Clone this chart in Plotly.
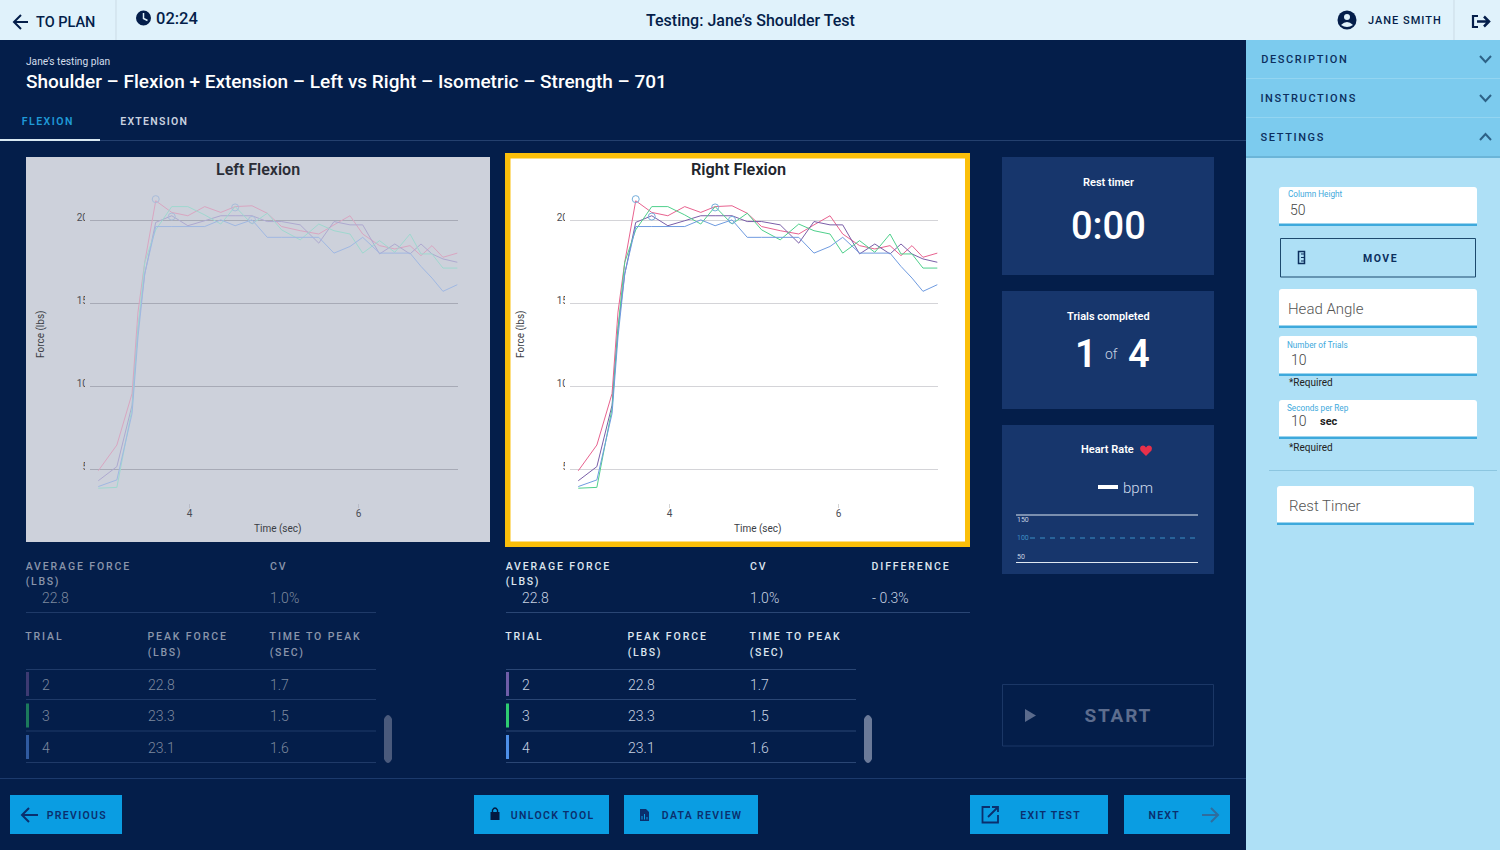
import json
import re

import plotly.graph_objects as go

W, H = 1500, 850

# force curves, shared sample times
times = [2.92, 3.14, 3.32, 3.39, 3.47, 3.60, 3.79, 3.98, 4.18, 4.37, 4.54, 4.74, 4.92,
         5.09, 5.31, 5.53, 5.71, 5.90, 6.05, 6.25, 6.43, 6.61, 6.74, 6.87, 7.00, 7.17]
trial_1 = [4.95, 6.5, 9.6, 14.5, 17.5, 21.2, 20.5, 20.3, 20.85, 20.5, 20.85, 20.9, 20.45,
           19.65, 19.4, 19.2, 19.75, 20.3, 19.2, 18.5, 18.3, 18.5, 17.9, 18.5, 17.8, 18.05]
trial_2 = [4.35, 5.2, 8.9, 13.5, 16.8, 19.9, 20.3, 19.7, 20.0, 20.3, 20.3, 20.3, 19.95,
           19.95, 19.75, 18.65, 19.95, 19.75, 19.75, 18.0, 18.6, 18.0, 18.6, 18.0, 17.7, 17.5]
trial_3 = [3.9, 3.95, 8.7, 13.5, 17.5, 19.45, 20.85, 20.85, 20.35, 19.8, 20.85, 19.8, 20.45,
           19.45, 18.85, 19.8, 19.4, 19.2, 18.05, 18.8, 18.1, 19.2, 18.0, 18.0, 17.15, 17.15]
trial_4 = [4.0, 4.4, 8.4, 13.0, 16.8, 19.65, 19.65, 19.65, 19.65, 20.05, 19.7, 20.05, 19.0,
           19.0, 19.0, 19.0, 18.05, 18.45, 19.0, 18.05, 18.05, 18.05, 17.25, 16.55, 15.75, 16.15]
peak_times = [3.60, 3.79, 4.54, 4.74]
peak_forces = [21.3, 20.25, 20.8, 20.05]

y_ticks = [5, 10, 15, 20]
x_ticks = [4, 6]
x_range = [2.822, 7.178]
y_range = [3.01, 22.15]

# table below the charts
table_trials = ["2", "3", "4"]
table_peak = ["22.8", "23.3", "23.1"]
table_time = ["1.7", "1.5", "1.6"]
table_bars = ["#6f5da8", "#2ecc71", "#4d8fe8"]
table_bars_dim = ["#3d3a72", "#1c7a5c", "#2f5aa0"]

NAVY = "#041e4a"
CARD = "#17366c"
ACCENT = "#0a9de2"
BTN_TEXT = "#0a2f6e"
FIELD = "#3ea9dc"
LEFT_BG = "#cdd1db"

shapes = []
annotations = []
tracked = {}


def fx(x):
    return x / W


def fy(y):
    return 1 - y / H


def rect(x0, y0, x1, y1, fill, line=None, width=1, layer="below"):
    shapes.append(dict(type="rect", xref="paper", yref="paper", layer=layer,
                       x0=fx(x0), x1=fx(x1), y0=fy(y1), y1=fy(y0), fillcolor=fill,
                       line=dict(color=line or fill, width=width if line else 0)))


def hline(x0, x1, y, color, width=1, dash="solid"):
    shapes.append(dict(type="line", xref="paper", yref="paper", layer="below",
                       x0=fx(x0), x1=fx(x1), y0=fy(y), y1=fy(y),
                       line=dict(color=color, width=width, dash=dash)))


def vline(x, y0, y1, color):
    shapes.append(dict(type="line", xref="paper", yref="paper", layer="below",
                       x0=fx(x), x1=fx(x), y0=fy(y0), y1=fy(y1),
                       line=dict(color=color, width=1)))


def circle(cx, cy, r, fill):
    shapes.append(dict(type="circle", xref="paper", yref="paper", layer="below",
                       x0=fx(cx - r), x1=fx(cx + r), y0=fy(cy + r), y1=fy(cy - r),
                       fillcolor=fill, line=dict(width=0)))


def icon(d, fill=None, line=None, width=2):
    # d is written in screen pixels, every number pair gets mapped to paper
    nums = iter(range(10000))

    def conv(m):
        v = float(m.group())
        return f"{fx(v):.5f}" if next(nums) % 2 == 0 else f"{fy(v):.5f}"

    path = re.sub(r"\d+\.?\d*", conv, d)
    shapes.append(dict(type="path", path=path, xref="paper", yref="paper", layer="below",
                       fillcolor=fill or "rgba(0,0,0,0)",
                       line=dict(color=line or "rgba(0,0,0,0)", width=width if line else 0)))


def text(x, y, s, size, color, anchor="left", weight=400, track=0, angle=0):
    if track:
        tracked[s] = track
    # left anchored annotations land a pixel to the right
    if anchor == "left":
        x -= 1
    annotations.append(dict(
        text=s, x=fx(x), y=fy(y), xref="paper", yref="paper", xanchor=anchor, yanchor="middle",
        showarrow=False, textangle=angle, borderpad=0,
        font=dict(family="Roboto", size=size, color=color, weight=weight)))


def rounded(x0, y0, x1, y1, r, fill):
    d = (f"M {x0} {y1} L {x0} {y0 + r} Q {x0} {y0} {x0 + r} {y0} L {x1 - r} {y0} "
         f"Q {x1} {y0} {x1} {y0 + r} L {x1} {y1} Z")
    icon(d, fill=fill)


def arrow(x0, x1, y, color, left=True, width=2):
    if left:
        icon(f"M {x1} {y} L {x0} {y} M {x0 + 7} {y - 7} L {x0} {y} L {x0 + 7} {y + 7}", line=color, width=width)
    else:
        icon(f"M {x0} {y} L {x1} {y} M {x1 - 7} {y - 7} L {x1} {y} L {x1 - 7} {y + 7}", line=color, width=width)


def field(x0, y0, x1, y1):
    rounded(x0, y0, x1, y1, 3, "#ffffff")
    rect(x0, y1 - 2.5, x1, y1, FIELD)


def results(dx, head, value, rule, bars, show_diff):
    text(558.5 + dx, 566, "AVERAGE FORCE", 10.5, head, "center", 500, 1.9)
    text(523 + dx, 581.5, "(LBS)", 10.5, head, "center", 500, 1.7)
    text(522 + dx, 598, "22.8", 14, value, weight=300)
    text(758.5 + dx, 566, "CV", 10.5, head, "center", 500, 1.9)
    text(750 + dx, 598, "1.0%", 14, value, weight=300)
    if show_diff:
        text(911, 566, "DIFFERENCE", 10.5, head, "center", 500, 1.9)
        text(872, 598, "- 0.3%", 14, value, weight=300)
    hline(506 + dx, (970 if show_diff else 856) + dx, 612.5, rule)
    text(524.5 + dx, 636.5, "TRIAL", 10.5, head, "center", 500, 1.9)
    text(667.5 + dx, 636.5, "PEAK FORCE", 10.5, head, "center", 500, 1.9)
    text(645 + dx, 652.5, "(LBS)", 10.5, head, "center", 500, 1.7)
    text(795.5 + dx, 636.5, "TIME TO PEAK", 10.5, head, "center", 500, 1.9)
    text(767 + dx, 652.5, "(SEC)", 10.5, head, "center", 500, 1.7)
    hline(506 + dx, 856 + dx, 669.5, rule)
    for i, row_y in enumerate([684.5, 716, 747.5]):
        rect(506 + dx, row_y - 12.5, 509 + dx, row_y + 11.5, bars[i])
        text(522 + dx, row_y, table_trials[i], 14, value, weight=300)
        text(628 + dx, row_y, table_peak[i], 14, value, weight=300)
        text(750 + dx, row_y, table_time[i], 14, value, weight=300)
        hline(506 + dx, 856 + dx, row_y + 15, rule)
    icon(f"M {864 + dx} 719 Q {868 + dx} 711 {872 + dx} 719 L {872 + dx} 759 "
         f"Q {868 + dx} 767 {864 + dx} 759 Z", fill="#6b7a99" if show_diff else "#4a5a7c")


# page chrome
rect(0, 0, W, 40, "#e0f2fb")
vline(116, 0, 40, "#cbdbe5")
vline(1454, 0, 40, "#cbdbe5")
arrow(14, 28, 22, NAVY)
text(36, 22.5, "TO PLAN", 14.5, NAVY, weight=500)
circle(143.5, 18, 7.5, NAVY)
icon("M 143.5 13 L 143.5 18.5 L 147.5 20.5", line="#e0f2fb", width=1.5)
text(156, 18.5, "02:24", 16.5, NAVY, weight=500)
text(750, 20, "Testing: Jane’s Shoulder Test", 16, NAVY, "center", 500)
circle(1347, 20, 9.5, NAVY)
circle(1347, 17, 3, "#e0f2fb")
icon("M 1341 25 Q 1347 19 1353 25 Q 1347 29 1341 25 Z", fill="#e0f2fb")
text(1404.5, 20, "JANE SMITH", 11, NAVY, "center", 500, 1.0)
icon("M 1478 16 L 1473 16 L 1473 27 L 1478 27", line=NAVY, width=2.2)
icon("M 1477 21.5 L 1488 21.5 M 1484 16.5 L 1489 21.5 L 1484 26.5", line=NAVY, width=2.5)

text(26, 61, "Jane’s testing plan", 10.2, "#d5dfec")
text(26, 82, "Shoulder – Flexion + Extension – Left vs Right – Isometric – Strength – 701", 19, "#ffffff", weight=500)
text(47.5, 121.5, "FLEXION", 10.5, "#1f9ad8", "center", 600, 1.5)
text(153.5, 121.5, "EXTENSION", 10.5, "#c9d2e0", "center", 600, 1.3)
hline(100, 1246, 140.5, "#24406e")
rect(0, 139, 100, 141, "#d8e8f2")

# chart panels
rect(26, 157, 490, 542, LEFT_BG)
rect(505, 153, 970, 547, "#fbbf0a")
rect(510.5, 158.5, 965, 541.5, "#ffffff")

results(-480, "#8a95aa", "#7d899f", "#1f3a68", table_bars_dim, False)
results(0, "#dde5ef", "#c7d2e2", "#2a4674", table_bars, True)

# side cards
rect(1002, 157, 1214, 275, CARD)
rect(1002, 291, 1214, 409, CARD)
rect(1002, 425, 1214, 574, CARD)
text(1108, 182, "Rest timer", 11, "#ffffff", "center", 600)
text(1108, 226, "0:00", 38, "#ffffff", "center", 500)
text(1108, 316, "Trials completed", 11, "#ffffff", "center", 600)
text(1086, 354, "1", 38, "#ffffff", "center", 600)
text(1111, 354, "of", 14, "#c7d2e2", "center", 300)
text(1139, 354, "4", 38, "#ffffff", "center", 600)
text(1107, 449.5, "Heart Rate", 11, "#ffffff", "center", 600)
icon("M 1146 456 L 1140.5 450.5 Q 1139 446 1143 445.5 Q 1145 445.5 1146 447.5 "
     "Q 1147 445.5 1149 445.5 Q 1153 446 1151.5 450.5 Z", fill="#e8304a")
rect(1098, 485, 1118, 489, "#ffffff")
text(1123, 488, "bpm", 15, "#cfdcec", weight=300)
hline(1016, 1198, 515, "#dfe8f2", 1)
hline(1030, 1198, 538, "#3d8fc4", 1, "5px,5px")
hline(1016, 1198, 562.5, "#dfe8f2", 1)
text(1017, 519.5, "150", 7, "#c7d2e2")
text(1017, 538, "100", 7, "#3d8fc4")
text(1017, 556.5, "50", 7, "#c7d2e2")

rect(1002.5, 684.5, 1213.5, 746, "rgba(0,0,0,0)", "#1b3766")
icon("M 1025 709 L 1036 715.5 L 1025 722 Z", fill="#5b6b8c")
text(1118.5, 715, "START", 19, "#5d6d8e", "center", 700, 1.8)

# bottom buttons
hline(0, 1246, 778.5, "#1c3a6c")
rect(10, 795, 122, 834, ACCENT)
rect(474, 795, 609, 834, ACCENT)
rect(624, 795, 758, 834, ACCENT)
rect(970, 795, 1108, 834, ACCENT)
rect(1124, 795, 1230, 834, ACCENT)
arrow(22, 38, 815, BTN_TEXT)
text(76.5, 815, "PREVIOUS", 10.5, BTN_TEXT, "center", 600, 1.3)
rect(490.5, 812, 499.5, 820, "#031a40")
icon("M 492.5 812 L 492.5 810 Q 495 806 497.5 810 L 497.5 812", line="#031a40", width=1.4)
text(552.5, 815, "UNLOCK TOOL", 10.5, BTN_TEXT, "center", 600, 1.3)
icon("M 640 809 L 646 809 L 649 812 L 649 821 L 640 821 Z", fill=BTN_TEXT)
icon("M 642 819.5 L 642 816 M 644.5 819.5 L 644.5 814 M 647 819.5 L 647 817", line=ACCENT, width=1)
text(702.5, 815, "DATA REVIEW", 10.5, BTN_TEXT, "center", 600, 1.3)
icon("M 990 807 L 982.5 807 L 982.5 822.5 L 998 822.5 L 998 815", line=BTN_TEXT, width=1.8)
icon("M 988 817 L 998 807 M 992 807 L 998 807 L 998 812", line=BTN_TEXT, width=1.8)
text(1050.5, 815, "EXIT TEST", 10.5, BTN_TEXT, "center", 600, 1.3)
text(1164.5, 815, "NEXT", 10.5, BTN_TEXT, "center", 600, 1.3)
arrow(1202, 1218, 815, "#2f6d9e", left=False)

# settings sidebar
rect(1246, 40, W, 850, "#aee0f6")
rect(1246, 40, W, 157, "#7ccbee")
hline(1246, W, 78.5, "#93d5f1")
hline(1246, W, 117.5, "#93d5f1")
rect(1246, 156, W, 158, "#6bb5d8")
text(1304.5, 59, "DESCRIPTION", 11, "#0c2f5e", "center", 500, 1.6)
text(1309, 98.5, "INSTRUCTIONS", 11, "#0c2f5e", "center", 500, 1.6)
text(1293, 137.5, "SETTINGS", 11, "#0c2f5e", "center", 500, 1.6)
icon("M 1480 56 L 1485.5 62 L 1491 56", line="#2d6287")
icon("M 1480 95 L 1485.5 101 L 1491 95", line="#2d6287")
icon("M 1480 140 L 1485.5 134 L 1491 140", line="#2d6287")

field(1279, 187, 1477, 226)
text(1288, 194.5, "Column Height", 8.2, FIELD)
text(1290, 209.5, "50", 14, "#444444", weight=300)
rect(1280.5, 238.5, 1475.5, 277, "rgba(0,0,0,0)", "#1d4a6e")
rect(1298.5, 251.5, 1304.5, 263.5, "rgba(0,0,0,0)", "#0c2f5e", 1.5)
icon("M 1301 254 L 1304 254 M 1301 257.5 L 1304 257.5 M 1301 261 L 1304 261", line="#0c2f5e", width=1)
text(1380.5, 258.5, "MOVE", 10.5, "#0c2f5e", "center", 700, 1.5)
field(1279, 289, 1477, 328)
text(1288, 309, "Head Angle", 15, "#555555", weight=300)
field(1279, 336, 1477, 376)
text(1287, 344.5, "Number of Trials", 8.2, FIELD)
text(1291, 360, "10", 14, "#444444", weight=300)
text(1289, 382.5, "*Required", 10, "#222222")
field(1279, 400, 1477, 439)
text(1287, 407.5, "Seconds per Rep", 8.2, FIELD)
text(1291, 421, "10", 14, "#444444", weight=300)
text(1320, 421, "sec", 11, "#222222", weight=700)
text(1289, 447.5, "*Required", 10, "#222222")
hline(1269, 1497, 470.5, "#8cc6e0")
field(1277, 486, 1474, 525)
text(1289, 506, "Rest Timer", 15, "#555555", weight=300)

# chart titles and axis labels
text(258, 170, "Left Flexion", 16, "#2a2d36", "center", 600)
text(738, 170, "Right Flexion", 16.3, "#22252d", "center", 600)
text(41, 334, "Force (lbs)", 10, "#3a3d45", "center", angle=-90)
text(521, 334, "Force (lbs)", 10, "#3a3d45", "center", angle=-90)
text(277.5, 528.5, "Time (sec)", 10, "#3a3d45", "center")
text(757.5, 528.5, "Time (sec)", 10, "#3a3d45", "center")

fig = go.Figure()
left_colors = ["#d9a6c1", "#aea9d0", "#9fd8cf", "#a0b8e2"]
right_colors = ["#e8628f", "#7a5ea8", "#4fd08c", "#6f9be0"]
series = [trial_1, trial_2, trial_3, trial_4]
for ax, palette, ring in [("", left_colors, "#a9bdda"), ("2", right_colors, "#74aedb")]:
    for i, values in enumerate(series):
        fig.add_trace(go.Scatter(x=times, y=values, mode="lines", name=f"Trial {i + 1}",
                                 line=dict(color=palette[i], width=1), xaxis=f"x{ax}", yaxis=f"y{ax}"))
    fig.add_trace(go.Scatter(x=peak_times, y=peak_forces, mode="markers", name="Peak",
                             marker=dict(symbol="circle-open", size=7, color=ring, line=dict(width=1)),
                             xaxis=f"x{ax}", yaxis=f"y{ax}"))

xaxis_opts = dict(range=x_range, tickvals=x_ticks, ticks="outside", ticklen=4, showgrid=False,
                  zeroline=False, showline=False, fixedrange=True, ticklabelstandoff=-3)
yaxis_opts = dict(range=y_range, tickvals=y_ticks, ticks="", zeroline=False, showline=False,
                  fixedrange=True, domain=[fy(503), fy(185)], ticklabelshift=-3, ticklabelstandoff=1)
tick_font = dict(family="Roboto", size=10, color="#4a4d55")
fig.update_layout(
    xaxis=dict(domain=[fx(90), fx(458)], anchor="y", tickfont=tick_font, tickcolor="#b9bcc8", **xaxis_opts),
    yaxis=dict(anchor="x", tickfont=tick_font, showgrid=True, gridcolor="#a7aab6", gridwidth=1, **yaxis_opts),
    xaxis2=dict(domain=[fx(570), fx(938)], anchor="y2", tickfont=tick_font, tickcolor="#d5d5d5", **xaxis_opts),
    yaxis2=dict(anchor="x2", tickfont=tick_font, showgrid=True, gridcolor="#d4d4d8", gridwidth=1, **yaxis_opts),
)

# the y tick labels are cut off at the plot edge in the app
rect(85, 205, 89.5, 480, LEFT_BG, layer="above")
rect(565, 205, 569.5, 480, "#ffffff", layer="above")

fig.update_layout(
    width=W, height=H, margin=dict(l=0, r=0, t=0, b=0), showlegend=False, hovermode=False,
    paper_bgcolor=NAVY, plot_bgcolor="rgba(0,0,0,0)",
    shapes=shapes, annotations=annotations, font=dict(family="Roboto"),
)

post_script = """
document.body.style.margin = '0';
document.body.style.overflow = 'hidden';
var tracked = %s;
document.querySelectorAll('.annotation-text').forEach(function (t) {
  if (tracked[t.textContent]) t.style.letterSpacing = tracked[t.textContent] + 'px';
});
""" % json.dumps(tracked)

fig.write_html("out.html", post_script=post_script, config=dict(displayModeBar=False))
